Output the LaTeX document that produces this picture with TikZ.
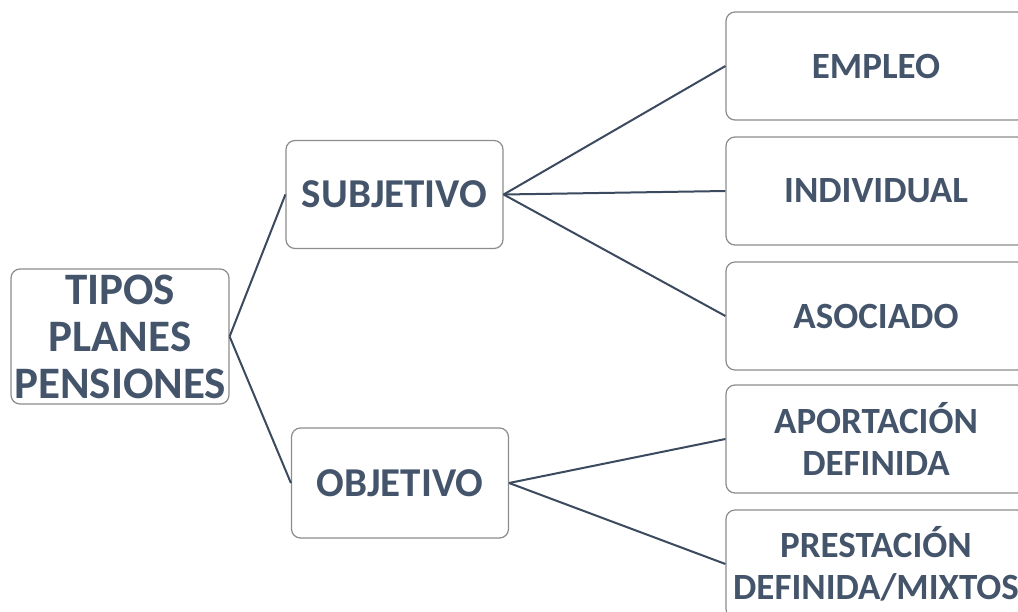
\documentclass[tikz,border=0pt]{standalone}
\usepackage{fontspec}
\setmainfont{Carlito}
\definecolor{txt}{HTML}{44546A}
\definecolor{edge}{HTML}{3B4A5E}
\definecolor{frame}{HTML}{8C8C8C}
\begin{document}
\begin{tikzpicture}[x=1pt,y=-1pt,
  box/.style={draw=frame,line width=1.2pt,rounded corners=9pt,fill=white,
    text=txt,align=center,inner sep=0pt,font=\bfseries},
  rootbox/.style={box,minimum width=218pt,minimum height=135pt,
    font=\bfseries\fontsize{45}{47}\selectfont},
  midbox/.style={box,minimum width=217pt,minimum height=108pt,
    font=\bfseries\fontsize{41}{48}\selectfont},
  leafbox/.style={box,minimum width=300pt,minimum height=108pt,
    font=\bfseries\fontsize{37}{42}\selectfont},
  link/.style={draw=edge,line width=2pt}]
\useasboundingbox (0,0) rectangle (1018,611);
\clip (0,0) rectangle (1018,611);

% first level
\node[rootbox] (root) at (120,336.5) {TIPOS\\PLANES\\PENSIONES};
\node[midbox] (subj) at (394.5,194.5) {SUBJETIVO};
\node[midbox,minimum height=110pt] (obj) at (400,483) {OBJETIVO};

% second level
\node[leafbox] (empleo) at (876,66) {EMPLEO};
\node[leafbox] (indiv) at (876,191) {INDIVIDUAL};
\node[leafbox] (asoc) at (876,316) {ASOCIADO};
\node[leafbox] (aport) at (876,439) {APORTACIÓN\\DEFINIDA};
\node[leafbox] (prest) at (876,564) {PRESTACIÓN\\DEFINIDA/MIXTOS};

% connectors
\draw[link] (root.east) -- (subj.west);
\draw[link] (root.east) -- (obj.west);
\draw[link] (subj.east) -- (empleo.west);
\draw[link] (subj.east) -- (indiv.west);
\draw[link] (subj.east) -- (asoc.west);
\draw[link] (obj.east) -- (aport.west);
\draw[link] (obj.east) -- (prest.west);
\end{tikzpicture}
\end{document}
